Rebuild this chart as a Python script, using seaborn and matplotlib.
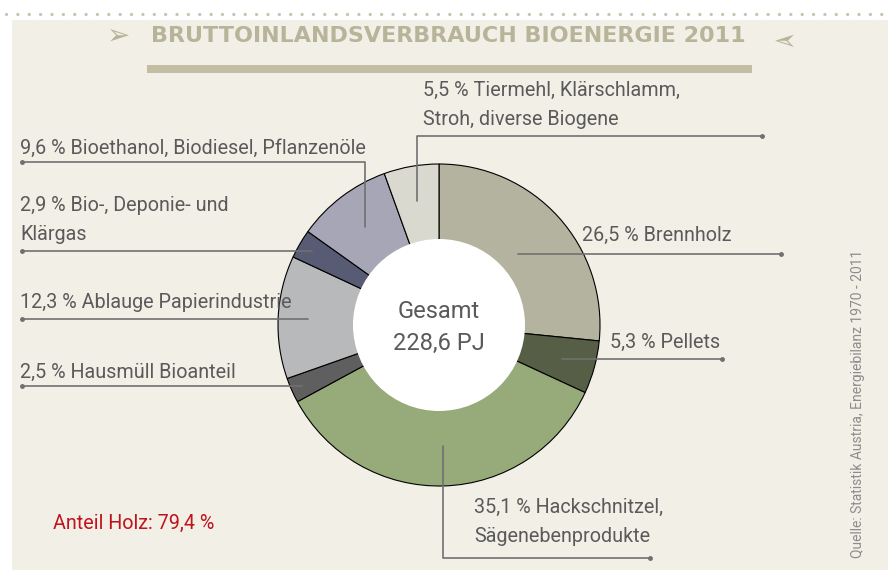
import numpy as np
import matplotlib.pyplot as plt
import seaborn as sns
from matplotlib.patches import Rectangle, Circle

# data (share in % of gross inland consumption of bioenergy 2011)
categories = ['Brennholz', 'Pellets', 'Hackschnitzel,\nSägenebenprodukte', 'Hausmüll Bioanteil',
              'Ablauge Papierindustrie', 'Bio-, Deponie- und\nKlärgas',
              'Bioethanol, Biodiesel, Pflanzenöle', 'Tiermehl, Klärschlamm,\nStroh, diverse Biogene']
shares = [26.5, 5.3, 35.1, 2.5, 12.3, 2.9, 9.6, 5.5]
total_pj = 228.6
wood_share = 79.4

colors = ['#b3b3a0', '#565e45', '#97aa7a', '#5f5f5f', '#b8b9ba', '#575b73', '#a6a6b6', '#d9d9cf']

sns.set_theme(style='white')
plt.rcParams['font.family'] = ['Roboto', 'DejaVu Sans']

fig = plt.figure(figsize=(8.91, 5.70), dpi=100, facecolor='white')
ax = fig.add_axes([0, 0, 1, 1])

# background panel + dotted top rule
ax.add_patch(Rectangle((12, 20), 876, 560, fc='#f2efe7', ec='none', zorder=0))
ax.plot([6, 888], [14, 14], color='#c9c5b0', lw=2.4, linestyle=(0, (0.01, 3.4)),
        dash_capstyle='round', zorder=1)

# title
title_col = '#b8b49a'
ax.text(448, 36, 'BRUTTOINLANDSVERBRAUCH BIOENERGIE 2011', ha='center', va='center',
        fontsize=16, fontweight='bold', color=title_col, family='DejaVu Sans')
ax.text(119, 37, '➢', ha='center', va='center', fontsize=20, color=title_col, family='DejaVu Sans')
ax.text(779, 37, '➢', ha='center', va='center', fontsize=20, color=title_col, family='DejaVu Sans',
        rotation=180)
ax.add_patch(Rectangle((147, 65), 605, 8, fc='#c2bda3', ec='none', zorder=1))

# donut
cx, cy, r_out, r_in = 439, 325, 161, 86
wedges, _ = ax.pie(shares, colors=colors, center=(cx, cy), radius=r_out,
                   startangle=-90, counterclock=True,
                   wedgeprops=dict(edgecolor='black', linewidth=0.8))
ax.add_patch(Circle((cx, cy), r_in, fc='white', ec='none', zorder=5))
ax.text(cx, cy - 14, 'Gesamt', ha='center', va='center', fontsize=17, color='#5a5a5a', zorder=6)
ax.text(cx, cy + 18, f'{total_pj:.1f} PJ'.replace('.', ','), ha='center', va='center',
        fontsize=17, color='#5a5a5a', zorder=6)

# leader lines: (radius of start, elbow y or None, end x, text x, text y)
leaders = [
    (106, None, 781, 582, 235),
    (128, None, 722, 610, 342),
    (121, 558, 650, 474, 522),
    (150, None, 22, 20, 372),
    (131, None, 22, 20, 302),
    (147, None, 22, 20, 220),
    (123, 162, 22, 20, 148),
    (126, 136, 762, 423, 105),
]
line_col = '#707070'
text_col = '#5a5a5a'
for w, share, name, (rr, ey, ex, tx, ty) in zip(wedges, shares, categories, leaders):
    mid = np.deg2rad((w.theta1 + w.theta2) / 2)
    sx = cx + rr * np.cos(mid)
    sy = cy + rr * np.sin(mid)
    if ey is None:
        xs, ys = [sx, ex], [sy, sy]
    else:
        xs, ys = [sx, sx, ex], [sy, ey, ey]
    ax.plot(xs, ys, color=line_col, lw=1.2, zorder=7)
    ax.plot([ex], [ys[-1]], 'o', color=line_col, ms=2.5, zorder=7)
    label = f'{share:.1f} % {name}'.replace('.', ',', 1)
    ax.text(tx, ty, label, ha='left', va='center', fontsize=14.2, color=text_col,
            linespacing=1.7, zorder=8)

ax.text(53, 523, f'Anteil Holz: {wood_share:.1f} %'.replace('.', ','), ha='left', va='center',
        fontsize=14.2, color='#c0141c')
ax.text(858, 404, 'Quelle: Statistik Austria, Energiebilanz 1970 - 2011', rotation=90,
        ha='center', va='center', fontsize=10, color='#8c8c8c')

ax.set_xlim(0, 891)
ax.set_ylim(570, 0)
ax.set_aspect('equal')
ax.set_axis_off()

plt.savefig('out.png', dpi=100, facecolor='white')
